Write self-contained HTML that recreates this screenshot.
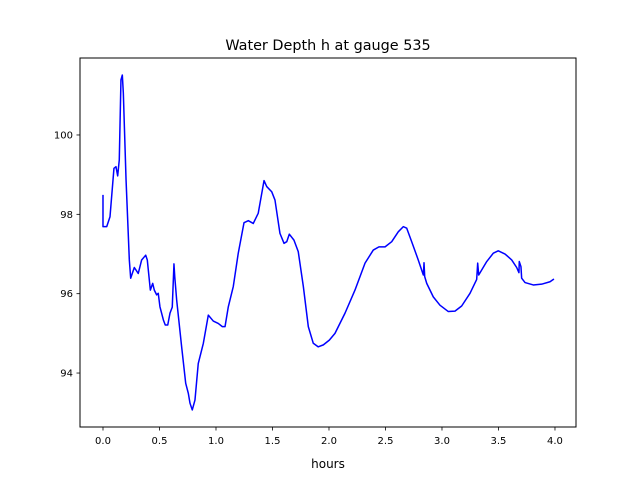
<!DOCTYPE html>
<html><head><meta charset="utf-8"><style>
html,body{margin:0;padding:0;background:#fff;}
svg{display:block;font-family:"DejaVu Sans","Liberation Sans",sans-serif;}
</style></head><body>
<svg id="chart" width="640" height="480" viewBox="0 0 640 480">
<rect width="640" height="480" fill="#fff"/>
<text x="328" y="50" text-anchor="middle" font-size="14.4">Water Depth h at gauge 535</text>
<text x="328" y="468" text-anchor="middle" font-size="12">hours</text>
<g id="plot"></g>
<rect x="80" y="58" width="496" height="369" fill="none" stroke="#000" stroke-width="1"/>
</svg>
<script>
const hours = [0,0,0.033,0.062,0.097,0.115,0.130,0.144,0.159,0.171,0.180,0.204,0.233,0.245,0.277,0.312,0.342,0.378,0.392,0.419,0.440,0.454,0.475,0.489,0.504,0.534,0.551,0.573,0.593,0.613,0.628,0.635,0.652,0.696,0.732,0.755,0.770,0.790,0.814,0.843,0.888,0.932,0.976,1.020,1.056,1.080,1.109,1.153,1.197,1.248,1.286,1.330,1.374,1.425,1.449,1.493,1.522,1.566,1.602,1.626,1.649,1.690,1.728,1.773,1.817,1.861,1.905,1.950,2.003,2.053,2.142,2.230,2.319,2.392,2.442,2.496,2.555,2.613,2.658,2.688,2.732,2.790,2.835,2.841,2.847,2.865,2.923,2.982,3.056,3.115,3.174,3.248,3.307,3.316,3.325,3.396,3.454,3.498,3.558,3.617,3.661,3.681,3.684,3.699,3.705,3.735,3.808,3.882,3.956,3.991];
const depth = [98.49,97.69,97.69,97.94,99.16,99.20,98.97,99.37,101.39,101.51,101.06,98.87,96.85,96.39,96.66,96.51,96.85,96.97,96.85,96.09,96.26,96.09,95.97,96.01,95.67,95.34,95.21,95.21,95.51,95.66,96.75,96.43,95.84,94.66,93.74,93.49,93.24,93.07,93.32,94.24,94.75,95.46,95.31,95.25,95.17,95.17,95.67,96.18,97.02,97.79,97.84,97.77,98.03,98.85,98.70,98.57,98.36,97.52,97.27,97.31,97.50,97.35,97.06,96.18,95.17,94.75,94.66,94.71,94.83,95.00,95.51,96.09,96.77,97.10,97.18,97.18,97.31,97.56,97.69,97.65,97.31,96.85,96.47,96.78,96.43,96.26,95.92,95.71,95.55,95.56,95.69,96.01,96.36,96.77,96.47,96.81,97.02,97.08,97.00,96.85,96.66,96.53,96.81,96.68,96.39,96.28,96.22,96.24,96.30,96.37];
const xTicks = [0,0.5,1,1.5,2,2.5,3,3.5,4];
const xTickLabels = ["0.0","0.5","1.0","1.5","2.0","2.5","3.0","3.5","4.0"];
const yTicks = [94,96,98,100];
const yTickLabels = ["94","96","98","100"];

const X0=80,X1=576,Y0=58,Y1=427;
const xMin=-0.2035,xMax=4.186,yMin=92.64,yMax=101.94;
function sx(v){return X0+(v-xMin)/(xMax-xMin)*(X1-X0);}
function sy(v){return Y1-(v-yMin)/(yMax-yMin)*(Y1-Y0);}
const NS="http://www.w3.org/2000/svg";
const g=document.getElementById('plot');
function mk(t,a){const e=document.createElementNS(NS,t);for(const k in a)e.setAttribute(k,a[k]);g.appendChild(e);return e;}
xTicks.forEach((t,i)=>{
  const x=sx(t);
  const l=mk('line',{x1:x,x2:x,y1:Y1,y2:Y1+3.5,stroke:'#000','stroke-width':0.8});
  
  
  const tx=mk('text',{x:x,y:Y1+17,'text-anchor':'middle','font-size':10});
  
  
  tx.textContent=xTickLabels[i];
});
yTicks.forEach((t,i)=>{
  const y=sy(t);
  const l=mk('line',{x1:X0-3.5,x2:X0,y1:y,y2:y,stroke:'#000','stroke-width':0.8});
  
  
  const tx=mk('text',{x:X0-7,y:y+3.5,'text-anchor':'end','font-size':10});
  
  
  tx.textContent=yTickLabels[i];
});
const pts=hours.map((h,i)=>sx(h).toFixed(2)+','+sy(depth[i]).toFixed(2)).join(' ');
const line=mk('polyline',{points:pts,fill:'none',stroke:'#0000ff','stroke-width':1.5,'stroke-linejoin':'round'});


</script>
</body></html>
